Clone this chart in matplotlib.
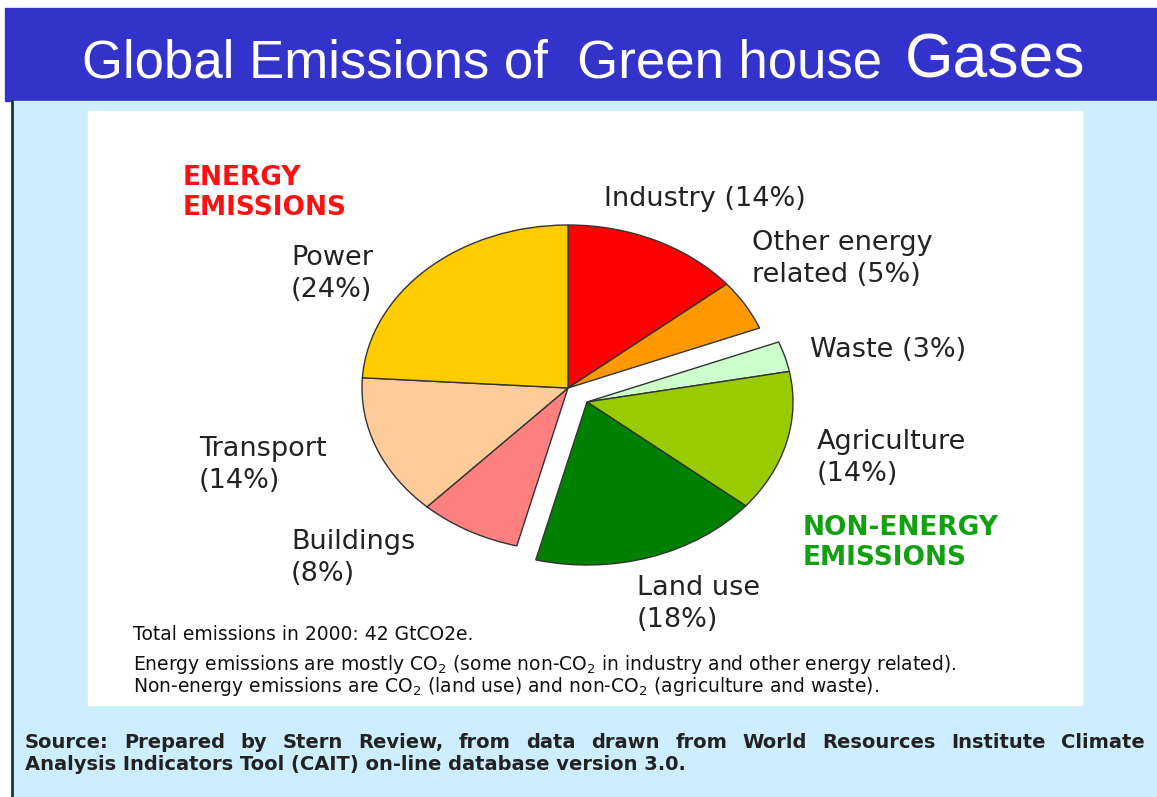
import matplotlib
matplotlib.use('Agg')
import matplotlib.pyplot as plt
from matplotlib.patches import Rectangle


# slices in drawing order, clockwise from 12 o'clock
SECTORS = ['Industry', 'Other energy related', 'Waste', 'Agriculture', 'Land use', 'Buildings', 'Transport', 'Power']
SHARES = [14, 5, 3, 14, 18, 8, 14, 24]
COLORS = ['#ff0000', '#ff9900', '#ccffcc', '#99cc00', '#008000', '#ff8080', '#ffcc99', '#ffcc00']
NON_ENERGY = ['Waste', 'Agriculture', 'Land use']

# label text and where it sits (pixels from top-left)
LABELS = {
	'Industry': ('Industry (14%)', 604, 199),
	'Other energy related': ('Other energy\nrelated (5%)', 752, 259),
	'Waste': ('Waste (3%)', 810, 350),
	'Agriculture': ('Agriculture\n(14%)', 817, 458),
	'Land use': ('Land use\n(18%)', 637, 604),
	'Buildings': ('Buildings\n(8%)', 291, 558),
	'Transport': ('Transport\n(14%)', 199, 465),
	'Power': ('Power\n(24%)', 291, 274),
}

NOTES = [
	'Total emissions in 2000: 42 GtCO2e.',
	'Energy emissions are mostly CO$_2$ (some non-CO$_2$ in industry and other energy related).',
	'Non-energy emissions are CO$_2$ (land use) and non-CO$_2$ (agriculture and waste).',
]
SOURCE_LINE1 = 'Source:  Prepared by Stern Review, from data drawn from World Resources Institute Climate'
SOURCE_LINE2 = 'Analysis Indicators Tool (CAIT) on-line database version 3.0.'

W, H = 1157, 797
CX, CY, RX, RY = 568, 388, 206, 163
SHIFT = (19, 14)

plt.rcParams['mathtext.default'] = 'regular'

fig = plt.figure(figsize=(W / 100, H / 100), dpi=100)
bg = fig.add_axes([0, 0, 1, 1])
bg.set_xlim(0, W)
bg.set_ylim(H, 0)
bg.axis('off')

bg.add_patch(Rectangle((0, 0), W, H, color='white'))
bg.add_patch(Rectangle((5, 8), W - 5, 93, color='#3333cc'))
bg.add_patch(Rectangle((11, 101), W - 11, H - 101, color='#cceeff'))
bg.plot([11.5, 11.5], [101, H], color='#223333', lw=2)
bg.add_patch(Rectangle((88, 111), 994, 594, color='white'))

title_font = ['Liberation Sans', 'DejaVu Sans']
bg.text(82, 77, 'Global Emissions of  Green house', color='white', fontsize=38, family=title_font, va='baseline')
bg.text(905, 77, 'Gases', color='white', fontsize=45, family=title_font, va='baseline')

# pie axes: unit circle stretched to an ellipse
pad = 1.3
pie_ax = fig.add_axes([(CX - pad * RX) / W, (H - CY - pad * RY) / H, 2 * pad * RX / W, 2 * pad * RY / H])
wedges, _ = pie_ax.pie(SHARES, colors=COLORS, startangle=90, counterclock=False, radius=1,
	wedgeprops=dict(edgecolor='#333333', linewidth=1))
pie_ax.set_aspect('auto')
pie_ax.set_xlim(-pad, pad)
pie_ax.set_ylim(-pad, pad)
pie_ax.axis('off')
for name, wedge in zip(SECTORS, wedges):
	if name in NON_ENERGY:
		wedge.set_center((SHIFT[0] / RX, -SHIFT[1] / RY))

label_font = ['DejaVu Sans']
for name in SECTORS:
	text, x, y = LABELS[name]
	bg.text(x, y, text, fontsize=19.5, family=label_font, color='#222222', va='center', ha='left', linespacing=1.3)

bg.text(183, 193, 'ENERGY\nEMISSIONS', fontsize=19, family=label_font, weight='bold', color='#ff1010',
	va='center', ha='left', linespacing=1.2)
bg.text(803, 543, 'NON-ENERGY\nEMISSIONS', fontsize=19, family=label_font, weight='bold', color='#10a010',
	va='center', ha='left', linespacing=1.2)

note_y = [634, 664, 687]
for text, y in zip(NOTES, note_y):
	bg.text(133, y, text, fontsize=13.5, family=label_font, color='#111111', va='center', ha='left')

# justified first source line
words = SOURCE_LINE1.split()
fig.canvas.draw()
renderer = fig.canvas.get_renderer()
word_texts = []
for i, word in enumerate(words):
	t = bg.text(0, 748, word, fontsize=14, family=label_font, weight='bold',
		color='#222222', va='baseline', ha='left')
	word_texts.append(t)
inv = bg.transData.inverted()
widths = []
for t in word_texts:
	bb = t.get_window_extent(renderer)
	x0 = inv.transform((bb.x0, 0))[0]
	x1 = inv.transform((bb.x1, 0))[0]
	widths.append(x1 - x0)
left, right = 25, 1145
gap = (right - left - sum(widths)) / (len(words) - 1)
x = left
for t, w in zip(word_texts, widths):
	t.set_x(x)
	x += w + gap
bg.text(25, 770, SOURCE_LINE2, fontsize=14, family=label_font, weight='bold', color='#222222', va='baseline', ha='left')

fig.savefig('out.png', dpi=100)
